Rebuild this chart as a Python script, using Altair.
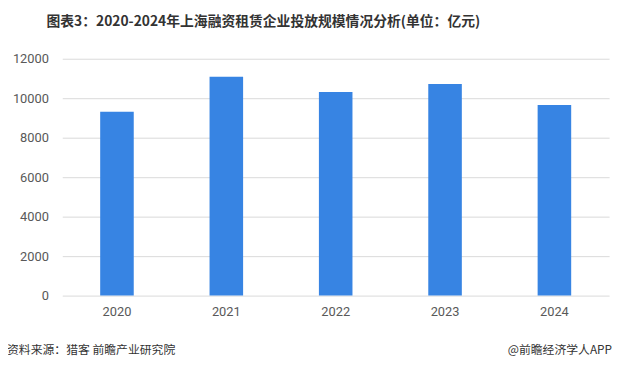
import altair as alt
import pandas as pd

years = ["2020", "2021", "2022", "2023", "2024"]
values = [9310, 11090, 10320, 10720, 9660]
y_ticks = [0, 2000, 4000, 6000, 8000, 10000, 12000]

title_text = "图表3：2020-2024年上海融资租赁企业投放规模情况分析(单位：亿元)"
source_text = "资料来源：猎客 前瞻产业研究院"
brand_text = "@前瞻经济学人APP"

df = pd.DataFrame({"year": years, "value": values})

W, H = 554, 240
FONT = "Noto Sans CJK SC"

bars = alt.Chart(df).mark_bar(color="#3784E3", size=34).encode(
    x=alt.X("year:N", sort=years, title=None,
            scale=alt.Scale(paddingInner=0.69, paddingOuter=0.345),
            axis=alt.Axis(labelAngle=0, labelColor="#595959", labelFontSize=13,
                          labelFont="Roboto", ticks=False, domain=False,
                          labelPadding=10, grid=False)),
    y=alt.Y("value:Q", title=None,
            scale=alt.Scale(domain=[0, 12000], nice=False),
            axis=alt.Axis(values=y_ticks, format="d", labelColor="#595959", labelFontSize=13,
                          labelFont="Roboto", ticks=False, domain=False,
                          labelPadding=14, gridColor="#d9d9d9", gridWidth=1)),
)

title = alt.Chart(pd.DataFrame({"t": [title_text]})).mark_text(
    align="left", baseline="middle", fontSize=14, fontWeight="bold",
    font=FONT, color="#333333"
).encode(text="t:N", x=alt.value(-16), y=alt.value(-37))

source = alt.Chart(pd.DataFrame({"t": [source_text]})).mark_text(
    align="left", baseline="middle", fontSize=12, font=FONT, color="#333333"
).encode(text="t:N", x=alt.value(-56), y=alt.value(295))

brand = alt.Chart(pd.DataFrame({"t": [brand_text]})).mark_text(
    align="right", baseline="middle", fontSize=12, font=FONT, color="#333333"
).encode(text="t:N", x=alt.value(557), y=alt.value(295))

chart = alt.layer(bars, title, source, brand).properties(
    width=W, height=H,
    autosize=alt.AutoSizeParams(type="none"),
    padding={"left": 55, "top": 49, "right": 7, "bottom": 77},
    background="white",
).configure_view(stroke=None)

chart.save("out.html", embed_options={"renderer": "svg", "actions": False})
